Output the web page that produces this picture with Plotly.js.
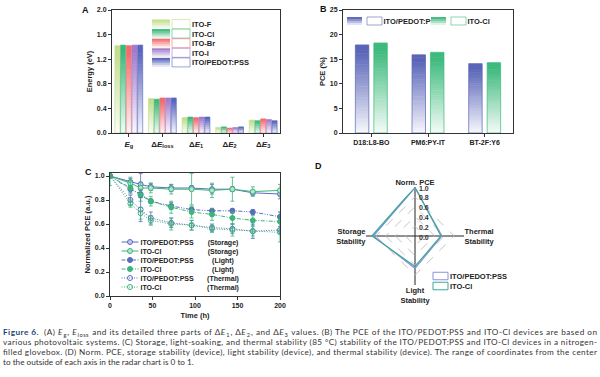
<!DOCTYPE html>
<html><head><meta charset="utf-8">
<script src="https://cdn.plot.ly/plotly-3.0.1.min.js"></script>
<style>html,body{margin:0;padding:0;background:#fff}#chart{width:600px;height:377px}</style>
</head><body>
<div id="chart"></div>
<script>
// ---------- Panel A data ----------
const energyCats = ['<i>E</i><sub>g</sub>', 'Δ<i>E</i><sub>loss</sub>', 'Δ<i>E</i><sub>1</sub>', 'Δ<i>E</i><sub>2</sub>', 'Δ<i>E</i><sub>3</sub>'];
const energyNames = ['ITO-F', 'ITO-Cl', 'ITO-Br', 'ITO-I', 'ITO/PEDOT:PSS'];
const eITOF  = [1.42, 0.56, 0.25, 0.09, 0.21];
const eITOCl = [1.43, 0.55, 0.26, 0.10, 0.20];
const eITOBr = [1.42, 0.57, 0.25, 0.08, 0.23];
const eITOI  = [1.43, 0.57, 0.26, 0.09, 0.22];
const ePEDOT = [1.43, 0.57, 0.26, 0.10, 0.20];
const energySeries = [eITOF, eITOCl, eITOBr, eITOI, ePEDOT];
const energyColors = ['#c3dd8b', '#3cb97a', '#f26b6e', '#a27ccb', '#5866bd'];

// ---------- Panel B data ----------
const systems = ['D18:L8-BO', 'PM6:PY-IT', 'BT-2F:Y6'];
const pceNames = ['ITO/PEDOT:PSS', 'ITO-Cl'];
const pcePEDOT = [17.9, 15.9, 14.1];
const pceCl    = [18.3, 16.4, 14.3];
const pceColors = ['#5a65b8', '#3dba7c'];

// ---------- Panel C data ----------
const timeH = [0, 24, 36, 48, 72, 96, 120, 144, 168, 200];
const storPEDOT  = [1.00, 0.95, 0.93, 0.91, 0.90, 0.90, 0.89, 0.89, 0.86, 0.85];
const storPEDOTe = [0.02, 0.03, 0.09, 0.03, 0.03, 0.02, 0.04, 0.02, 0.02, 0.04];
const storCl     = [1.00, 0.94, 0.90, 0.90, 0.89, 0.89, 0.88, 0.89, 0.87, 0.88];
const storCle    = [0.08, 0.05, 0.05, 0.04, 0.04, 0.13, 0.06, 0.10, 0.04, 0.05];
const lightPEDOT  = [1.00, 0.89, 0.85, 0.79, 0.75, 0.72, 0.71, 0.71, 0.70, 0.66];
const lightPEDOTe = [0.02, 0.03, 0.03, 0.02, 0.03, 0.02, 0.02, 0.02, 0.02, 0.04];
const lightCl     = [1.00, 0.90, 0.84, 0.79, 0.74, 0.70, 0.68, 0.65, 0.63, 0.62];
const lightCle    = [0.02, 0.05, 0.05, 0.04, 0.05, 0.05, 0.05, 0.05, 0.04, 0.08];
const thermPEDOT  = [1.00, 0.80, 0.72, 0.65, 0.61, 0.59, 0.57, 0.56, 0.54, 0.55];
const thermPEDOTe = [0.02, 0.04, 0.10, 0.05, 0.04, 0.04, 0.03, 0.04, 0.06, 0.03];
const thermCl     = [1.00, 0.77, 0.69, 0.63, 0.60, 0.59, 0.56, 0.55, 0.54, 0.53];
const thermCle    = [0.02, 0.03, 0.05, 0.04, 0.05, 0.04, 0.03, 0.05, 0.04, 0.08];
const stabDevices = ['ITO/PEDOT:PSS', 'ITO-Cl', 'ITO/PEDOT:PSS', 'ITO-Cl', 'ITO/PEDOT:PSS', 'ITO-Cl'];
const stabConds = ['Storage', 'Storage', 'Light', 'Light', 'Thermal', 'Thermal'];
const stabValues = [storPEDOT, storCl, lightPEDOT, lightCl, thermPEDOT, thermCl];
const stabErrors = [storPEDOTe, storCle, lightPEDOTe, lightCle, thermPEDOTe, thermCle];
const cBlue = '#5b6cc0', cGreen = '#3bb57a';

// ---------- Panel D data ----------
const radarAxes = ['Norm. PCE', 'Thermal<br>Stability', 'Light<br>Stability', 'Storage<br>Stability'];
const radarPEDOT = [0.98, 0.55, 0.66, 0.85];
const radarCl    = [1.00, 0.53, 0.62, 0.88];
const radarNames = ['ITO/PEDOT:PSS', 'ITO-Cl'];
const radarColors = ['#8e90da', '#3aa99b'];
const radialTicks = [0, 0.2, 0.4, 0.6, 0.8, 1.0];

const F = 'Liberation Sans, Arial, sans-serif';
const tickF = {family: F, size: 7, color: '#222', weight: 'bold'};
const titleF = {family: F, size: 7.5, color: '#222', weight: 'bold'};

const data = [];
energySeries.forEach((s, i) => data.push({
  type: 'bar', x: energyCats, y: s, name: energyNames[i],
  marker: {color: energyColors[i], line: {color: energyColors[i], width: 0.6}},
  xaxis: 'x', yaxis: 'y', legend: 'legend'
}));
[pcePEDOT, pceCl].forEach((s, i) => data.push({
  type: 'bar', x: systems, y: s, name: pceNames[i],
  width: 0.238, offset: i === 0 ? -0.282 : 0.044,
  marker: {color: pceColors[i], line: {color: pceColors[i], width: 0.7}},
  xaxis: 'x2', yaxis: 'y2', legend: 'legend2'
}));
const dashes = ['solid', 'solid', '4px,1.5px,1px,1.5px,1px,1.5px', '4px,1.5px,1px,1.5px', '1px,1.5px', '1px,1.5px'];
const symbols = ['circle', 'circle', 'circle', 'circle', 'circle-open', 'circle-open'];
stabValues.forEach((s, i) => {
  const col = i % 2 === 0 ? cBlue : cGreen;
  const light = i % 2 === 0 ? '#c3c9ee' : '#b5e6cc';
  data.push({
    type: 'scatter', mode: 'lines+markers', x: timeH, y: s,
    name: stabDevices[i] + ' (' + stabConds[i] + ')',
    line: {color: col, width: 1, dash: dashes[i]},
    marker: {symbol: symbols[i], size: 5, color: i < 2 ? light : col, line: {color: col, width: 1}},
    error_y: {type: 'data', array: stabErrors[i], color: col, thickness: 0.8, width: 2},
    xaxis: 'x3', yaxis: 'y3', legend: 'legend3'
  });
});
[radarPEDOT, radarCl].forEach((s, i) => data.push({
  type: 'scatterpolar', mode: 'lines', r: s.concat([s[0]]), theta: radarAxes.concat([radarAxes[0]]),
  name: radarNames[i], line: {color: radarColors[i], width: 1.2}, legend: 'legend4'
}));

const axBase = {showline: true, linecolor: '#333', linewidth: 1, mirror: true, ticks: 'outside', ticklen: 3,
  tickwidth: 1, tickcolor: '#333', showgrid: false, zeroline: false, tickfont: tickF};
const yA = 1 - 133/377, yA2 = 1 - 10/377;
const legBase = {bgcolor: 'rgba(0,0,0,0)', borderwidth: 0, font: {family: F, size: 7.5, color: '#222', weight: 'bold'}, xanchor: 'left', yanchor: 'top'};

const capLines = [
  '<b><span style="color:#1d3f73">Figure 6.</span></b>  (A) <i>E</i><sub>g</sub>, <i>E</i><sub>loss</sub> and its detailed three parts of Δ<i>E</i><sub>1</sub>, Δ<i>E</i><sub>2</sub>, and Δ<i>E</i><sub>3</sub> values. (B) The PCE of the ITO/PEDOT:PSS and ITO-Cl devices are based on',
  'various photovoltaic systems. (C) Storage, light-soaking, and thermal stability (85 °C) stability of the ITO/PEDOT:PSS and ITO-Cl devices in a nitrogen-',
  'filled glovebox. (D) Norm. PCE, storage stability (device), light stability (device), and thermal stability (device). The range of coordinates from the center',
  'to the outside of each axis in the radar chart is 0 to 1.'
];
const capY = [332, 342, 352, 361.5];
const annotations = [
  {text: 'A', x: 85/600, y: 1 - 10/377},
  {text: 'B', x: 323/600, y: 1 - 9/377},
  {text: 'C', x: 88/600, y: 1 - 172/377},
  {text: 'D', x: 318/600, y: 1 - 166/377}
].map(a => Object.assign({xref: 'paper', yref: 'paper', showarrow: false, xanchor: 'center', yanchor: 'middle', font: {family: F, size: 9, color: '#111', weight: 'bold'}}, a));
const capStart = annotations.length;
capLines.forEach((t, i) => annotations.push({text: t, xref: 'paper', yref: 'paper', x: 2/600, y: 1 - capY[i]/377,
  xanchor: 'left', yanchor: 'middle', align: 'left', showarrow: false, borderpad: 0,
  font: {family: 'Lato, Liberation Sans, sans-serif', size: 8.2, color: '#333'}}));

const layout = {
  width: 600, height: 377, margin: {l: 0, r: 0, t: 0, b: 0}, paper_bgcolor: '#fff', plot_bgcolor: 'rgba(0,0,0,0)',
  showlegend: true, barmode: 'group', bargap: 0.155, bargroupgap: 0.1, font: {family: F},
  xaxis: Object.assign({}, axBase, {domain: [112/600, 280/600], anchor: 'y', type: 'category', tickfont: Object.assign({}, tickF, {size: 8})}),
  yaxis: Object.assign({}, axBase, {domain: [yA, yA2], anchor: 'x', range: [0, 2], dtick: 0.4, tickformat: '.1f', title: {text: 'Energy (eV)', font: titleF, standoff: 3}}),
  xaxis2: Object.assign({}, axBase, {domain: [343/600, 513/600], anchor: 'y2', type: 'category'}),
  yaxis2: Object.assign({}, axBase, {domain: [yA, yA2], anchor: 'x2', range: [0, 25], dtick: 5, title: {text: 'PCE (%)', font: titleF, standoff: 3}}),
  xaxis3: Object.assign({}, axBase, {domain: [110/600, 280/600], anchor: 'y3', range: [0, 200], dtick: 50, title: {text: 'Time (h)', font: titleF, standoff: 4}}),
  yaxis3: Object.assign({}, axBase, {domain: [1 - 296/377, 1 - 173/377], anchor: 'x3', range: [0, 1.025], dtick: 0.2, tickformat: '.1f', title: {text: 'Normalized PCE (a.u.)', font: titleF, standoff: 3}}),
  polar: {
    domain: {x: [366/600, 464/600], y: [1 - 285/377, 1 - 187/377]},
    bgcolor: 'rgba(0,0,0,0)', gridshape: 'linear',
    radialaxis: {range: [0, 1], tickvals: radialTicks, tickformat: '.1f', angle: 90, showline: false, ticks: '',
      gridcolor: '#b5b5b5', griddash: 'dash', gridwidth: 0.8, tickfont: {family: F, size: 7, color: '#333', weight: 'bold'}},
    angularaxis: {direction: 'clockwise', rotation: 90, showline: false, ticks: '', gridcolor: '#222', gridwidth: 1,
      tickfont: {family: F, size: 7.5, color: '#222', weight: 'bold'}}
  },
  legend: Object.assign({}, legBase, {x: 170/600, y: 1 - 18/377}),
  legend2: Object.assign({}, legBase, {orientation: 'h', x: 360/600, y: 1 - 14/377}),
  legend3: Object.assign({}, legBase, {x: 115/600, y: 1 - 236/377, font: {family: F, size: 7, color: '#222', weight: 'bold'}}),
  legend4: Object.assign({}, legBase, {x: 428/600, y: 1 - 270/377}),
  annotations: annotations
};

const svgNS = 'http://www.w3.org/2000/svg';
// fade each drawn bar from its colour at the top to near-white at the bottom, using thin slices of its own box
function gradSlices(p) {
  try {
    const cur = p.style.fill || getComputedStyle(p).fill;
    const nums = (String(cur).match(/[\d.]+/g) || []).slice(0, 3).map(Number);
    if (nums.length < 3) return;
    const bb = p.getBBox();
    if (!(bb.height > 0 && bb.width > 0)) return;
    const N = Math.max(4, Math.min(32, Math.ceil(bb.height / 2)));
    const g = document.createElementNS(svgNS, 'g');
    for (let k = 0; k < N; k++) {
      const f = (k + 0.5) / N;
      const t = f < 0.08 ? 0 : (f - 0.08) / 0.92 * 0.95;
      const c = nums.map(v => Math.round(v + (255 - v) * t));
      const r = document.createElementNS(svgNS, 'rect');
      r.setAttribute('x', bb.x); r.setAttribute('y', bb.y + k * bb.height / N);
      r.setAttribute('width', bb.width);
      r.setAttribute('height', bb.height / N + (k < N - 1 ? 0.5 : 0));
      r.setAttribute('fill', 'rgb(' + c.join(',') + ')');
      r.setAttribute('stroke', 'none');
      g.appendChild(r);
    }
    p.parentNode.insertBefore(g, p);
    p.style.fill = 'none';
  } catch (e) { console.log(e); }
}
function parseT(el) {
  const m = (el.getAttribute('transform') || '').match(/translate\(\s*([-\d.eE]+)(?:[\s,]+([-\d.eE]+))?/);
  return m ? [parseFloat(m[1]), parseFloat(m[2] || 0)] : [0, 0];
}
function findSwatch(it, type) {
  const paths = Array.from(it.querySelectorAll('path')).filter(p => (p.getAttribute('d') || '').length > 2);
  if (type === 'bar') {
    return paths.find(p => /^M6,6H-6V-6H6Z/.test(p.getAttribute('d'))) || null;
  }
  return paths.find(p => p.classList.contains('js-line')) || paths.find(p => /^M5,0h30/.test(p.getAttribute('d'))) || null;
}
function fixLegend(id, cfg) {
  const lg = document.querySelector('.infolayer g.' + id);
  if (!lg) return;
  lg.querySelectorAll('[clip-path]').forEach(e => e.removeAttribute('clip-path'));
  const items = Array.from(lg.querySelectorAll('g.traces'));
  items.forEach((it, i) => {
    try {
      const sw = findSwatch(it, cfg.type);
      const tx = it.querySelector('text.' + id + 'text') || it.querySelector('text');
      if (!sw || !tx) return;
      if (cfg.type === 'bar') {
        sw.setAttribute('d', 'M' + cfg.w/2 + ',' + cfg.h/2 + 'H' + (-cfg.w/2) + 'V' + (-cfg.h/2) + 'H' + cfg.w/2 + 'Z');
        sw.style.strokeWidth = '0.6px';
        gradSlices(sw);
      } else if (cfg.type === 'line') {
        sw.setAttribute('d', 'M' + (20 - cfg.w/2) + ',0h' + cfg.w);
      } else {
        sw.setAttribute('d', 'M' + (20 - cfg.w/2) + ',' + (-cfg.h/2) + 'h' + cfg.w + 'v' + cfg.h + 'h' + (-cfg.w) + 'Z');
        sw.style.fill = 'none'; sw.style.strokeWidth = '1px';
      }
      let r = sw.getBoundingClientRect();
      const tr = tx.getBoundingClientRect();
      const x0 = parseFloat(tx.getAttribute('x') || 0);
      tx.setAttribute('x', x0 + (r.right + cfg.gap - tr.left));
      r = sw.getBoundingClientRect();
      const cx = (r.left + r.right) / 2, cy = (r.top + r.bottom) / 2;
      const [a, b] = parseT(it);
      const [X, Y] = cfg.pos(i);
      it.setAttribute('transform', 'translate(' + (a + X - cx) + ',' + (b + Y - cy) + ')');
      if (cfg.suffixX) {
        const full = tx.textContent; const k = full.lastIndexOf(' (');
        if (k > 0) {
          tx.textContent = full.slice(0, k);
          const t2 = tx.getBoundingClientRect();
          const xs = parseFloat(tx.getAttribute('x'));
          const ts = document.createElementNS(svgNS, 'tspan');
          ts.textContent = full.slice(k + 1);
          ts.setAttribute('x', xs + (cfg.suffixX - t2.left));
          ts.setAttribute('text-anchor', 'middle');
          tx.appendChild(ts);
        }
      }
    } catch (e) { console.log(e); }
  });
}

const gd = document.getElementById('chart');
Plotly.newPlot(gd, data, layout, {staticPlot: true}).then(() => {
  try {
    for (let i = 0; i < 3; i++) {
      const t = document.querySelector('g.annotation[data-index="' + (capStart + i) + '"] text.annotation-text');
      if (t) { t.setAttribute('textLength', '594'); t.setAttribute('lengthAdjust', 'spacing'); }
    }
    Array.from(document.querySelectorAll('g.trace.bars path')).forEach(p => gradSlices(p));
  } catch (e) { console.log(e); }
  fixLegend('legend', {type: 'bar', w: 18, h: 9, gap: 2, pos: i => [181, 24 + 9.6 * i]});
  fixLegend('legend2', {type: 'bar', w: 15, h: 8, gap: 1.5, pos: i => [i === 0 ? 374.5 : 458.5, 21]});
  fixLegend('legend3', {type: 'line', w: 17, gap: 2, suffixX: 223, pos: i => [130, 242 + 9 * i]});
  fixLegend('legend4', {type: 'box', w: 15, h: 7.5, gap: 2, pos: i => [440.5, 276 + 10 * i]});
});
</script>
</body></html>
